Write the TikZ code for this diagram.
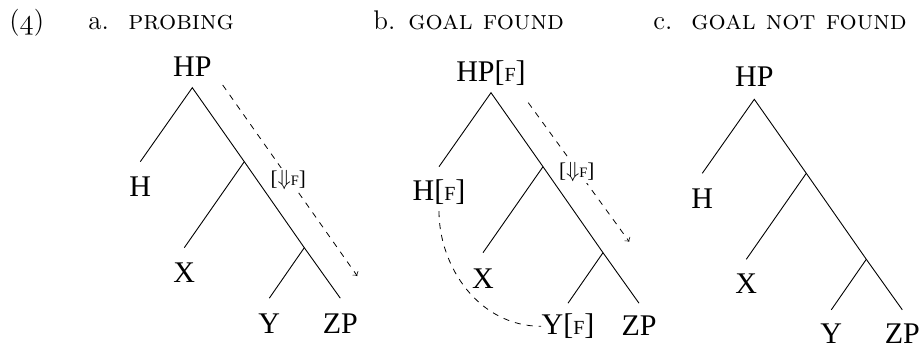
\documentclass[tikz,border=0pt]{standalone}
\usepackage{fontspec}
\newfontfamily\treefont{Liberation Serif}
\newcommand{\osf}[1]{{\usefont{OML}{cmm}{m}{it}#1}}
\newcommand{\smF}{{\fontsize{10}{10}\selectfont F}}
\newcommand{\tinyF}{{\fontsize{7.2}{7}\selectfont F}}
\newcommand{\probelabel}{[$\Downarrow$\tinyF]}
\begin{document}
\begin{tikzpicture}[x=0.5pt,y=-0.5pt,
  lab/.style={font=\treefont\fontsize{15}{15}\selectfont, inner sep=0pt, anchor=base},
  hd/.style={font=\fontsize{13.5}{15}\selectfont, inner sep=0pt, anchor=base west},
  branch/.style={line width=0.45pt},
  probe/.style={dashed, ->, line width=0.4pt},
  plab/.style={font=\treefont\fontsize{10.5}{10}\selectfont, fill=white, inner sep=1pt},
  agree/.style={dashed, line width=0.4pt}]
\useasboundingbox (0,0) rectangle (922,348);

% header
\node[hd] (num) at (9,29) {(\osf{4})};
\node[hd] (la) at (88,29) {a.};
\node[hd] (ta) at (128,29) {\textsc{probing}};
\node[hd] (lb) at (373,29) {b.};
\node[hd] (tb) at (408,29) {\textsc{goal found}};
\node[hd] (lc) at (653,29) {c.};
\node[hd] (tc) at (691,29) {\textsc{goal not found}};

% tree a
\begin{scope}[shift={(192.3,87.7)}, name prefix=a-]
  \coordinate (top) at (0,0);
  \coordinate (n1) at (52,74);
  \coordinate (h) at (-52,74);
  \coordinate (x) at (-8,160);
  \coordinate (n2) at (112,160);
  \coordinate (y) at (77,210.5);
  \coordinate (zp) at (148,210.5);
  \node[lab] (HP) at (0,-11) {HP};
  \node[lab] (H) at (-52,109) {H};
  \node[lab] (X) at (-8,195) {X};
  \node[lab] (Y) at (77,245.6) {Y};
  \node[lab] (ZP) at (148,245.6) {ZP};
  \draw[branch] (h) -- (top) -- (n1) -- (n2) -- (zp);
  \draw[branch] (n1) -- (x);
  \draw[branch] (n2) -- (y);
  \coordinate (ps) at (30.4,-2.7);
  \coordinate (pe) at (165,188.3);
  \draw[probe] (ps) -- (pe);
  \node[plab] (PL) at (96,92.3) {\probelabel};
\end{scope}

% tree b
\begin{scope}[shift={(491,92.7)}, name prefix=b-]
  \coordinate (top) at (0,0);
  \coordinate (n1) at (52,74);
  \coordinate (h) at (-52,74);
  \coordinate (x) at (-8,160);
  \coordinate (n2) at (112,160);
  \coordinate (y) at (77,210.5);
  \coordinate (zp) at (148,210.5);
  \node[lab] (HP) at (0,-11) {HP[\smF]};
  \node[lab] (H) at (-52,108) {H[\smF]};
  \node[lab] (X) at (-8,195.3) {X};
  \node[lab] (Y) at (77,242) {Y[\smF]};
  \node[lab] (ZP) at (148,242.3) {ZP};
  \draw[branch] (h) -- (top) -- (n1) -- (n2) -- (zp);
  \draw[branch] (n1) -- (x);
  \draw[branch] (n2) -- (y);
  \coordinate (ps) at (37.3,10);
  \coordinate (pe) at (138.3,149);
  \draw[probe] (ps) -- (pe);
  \node[plab] (PL) at (85.7,79) {\probelabel};
  \draw[agree, shorten <=3pt] (H.south) to[out=-90, in=180] (Y.west);
\end{scope}

% tree c
\begin{scope}[shift={(754.3,99.3)}, name prefix=c-]
  \coordinate (top) at (0,0);
  \coordinate (n1) at (52,74);
  \coordinate (h) at (-52,74);
  \coordinate (x) at (-8,160);
  \coordinate (n2) at (112,160);
  \coordinate (y) at (77,210.5);
  \coordinate (zp) at (148,210.5);
  \node[lab] (HP) at (0,-12.6) {HP};
  \node[lab] (H) at (-52,108.7) {H};
  \node[lab] (X) at (-8,194.2) {X};
  \node[lab] (Y) at (77,244.2) {Y};
  \node[lab] (ZP) at (148,244.2) {ZP};
  \draw[branch] (h) -- (top) -- (n1) -- (n2) -- (zp);
  \draw[branch] (n1) -- (x);
  \draw[branch] (n2) -- (y);
\end{scope}
\end{tikzpicture}
\end{document}
